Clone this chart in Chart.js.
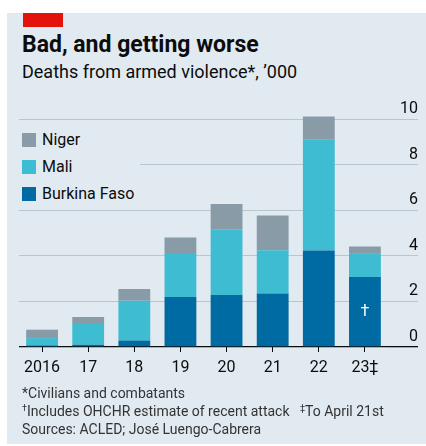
<!DOCTYPE html>
<html>
<head>
<meta charset="utf-8">
<script src="https://cdn.jsdelivr.net/npm/chart.js@4"></script>
<style>
  html, body { margin: 0; padding: 0; background: #fff; }
  body { width: 426px; height: 446px; position: relative; overflow: hidden; font-family: Roboto, sans-serif; color: #0c0c0c; }
  #panel { position: absolute; left: 7px; top: 13px; width: 419px; height: 431px; background: #e1eaf1; }
  #redTag { position: absolute; left: 23px; top: 13px; width: 40px; height: 14px; background: #e3120b; }
  #title { position: absolute; left: 22px; top: 33px; font-size: 23px; font-weight: 700; line-height: 24px; white-space: nowrap; }
  #subtitle { position: absolute; left: 22px; top: 61px; font-size: 18px; line-height: 22px; white-space: nowrap; }
  #chartBox { position: absolute; left: 0; top: 0; width: 426px; height: 446px; }
  #legend { position: absolute; left: 18px; top: 126px; width: 122px; height: 80px; background: #e1eaf1; }
  .item { position: absolute; left: 4px; height: 16px; font-size: 16px; line-height: 16px; white-space: nowrap; }
  .item span { display: inline-block; width: 14px; height: 14px; vertical-align: top; margin-right: 6px; margin-top: 1px; }
  #notes { position: absolute; left: 22px; top: 384px; font-size: 14px; line-height: 18px; color: #333; white-space: nowrap; }
  #notes sup { font-size: 9px; vertical-align: 5px; line-height: 0; }
</style>
</head>
<body>
<div id="panel"></div>
<div id="redTag"></div>
<div id="title">Bad, and getting worse</div>
<div id="subtitle">Deaths from armed violence*, ’000</div>
<div id="chartBox"><canvas id="grafico" width="426" height="446"></canvas></div>
<div id="legend">
  <div class="item" style="top:6px"><span style="background:#8a9ba8"></span>Niger</div>
  <div class="item" style="top:33px"><span style="background:#3ebcd2"></span>Mali</div>
  <div class="item" style="top:60px"><span style="background:#006ba2"></span>Burkina Faso</div>
</div>
<div id="notes">
  *Civilians and combatants<br>
  <sup>†</sup>Includes OHCHR estimate of recent attack &nbsp;&nbsp;<sup>‡</sup>To April 21st<br>
  Sources: ACLED; José Luengo-Cabrera
</div>
<script>
// Dados (milhares de mortes)
const anos = ['2016', '17', '18', '19', '20', '21', '22', '23‡'];
const burkinaFaso = [0.07, 0.10, 0.29, 2.19, 2.28, 2.35, 4.24, 3.07];
const mali = [0.32, 0.95, 1.74, 1.89, 2.86, 1.90, 4.88, 1.05];
const niger = [0.37, 0.27, 0.51, 0.73, 1.13, 1.52, 0.99, 0.29];
const ticksY = [0, 2, 4, 6, 8, 10];

const corGrade = '#b7c6cf';
const corEixo = '#0c0c0c';

// Escreve a adaga branca no meio da barra de 2023 (Burkina Faso)
const pluginAdaga = {
  id: 'adaga',
  afterDatasetsDraw(chart) {
    const barra = chart.getDatasetMeta(0).data[7];
    if (!barra) return;
    const ctx = chart.ctx;
    ctx.save();
    ctx.fillStyle = '#ffffff';
    ctx.font = '16px Roboto';
    ctx.textAlign = 'center';
    ctx.textBaseline = 'middle';
    ctx.fillText('†', barra.x, (barra.y + barra.base) / 2);
    ctx.restore();
  }
};

const ctx = document.getElementById('grafico').getContext('2d');
new Chart(ctx, {
  type: 'bar',
  data: {
    labels: anos,
    datasets: [
      { label: 'Burkina Faso', data: burkinaFaso, backgroundColor: '#006ba2' },
      { label: 'Mali', data: mali, backgroundColor: '#3ebcd2' },
      { label: 'Niger', data: niger, backgroundColor: '#8a9ba8' }
    ]
  },
  options: {
    responsive: false,
    animation: false,
    devicePixelRatio: 1,
    layout: { padding: { left: 19, right: 8, top: 110, bottom: 69 } },
    datasets: { bar: { barPercentage: 0.69, categoryPercentage: 1, borderWidth: 0, clip: false } },
    plugins: { legend: { display: false }, tooltip: { enabled: false } },
    scales: {
      x: {
        stacked: true,
        border: { display: false },
        grid: { drawOnChartArea: false, drawTicks: true, tickLength: 5, color: corEixo, offset: false },
        ticks: { font: { family: 'Roboto', size: 16 }, color: corEixo, padding: 6, maxRotation: 0, autoSkip: false },
        afterFit(scale) { scale.height = 30; }
      },
      y: {
        stacked: true,
        position: 'right',
        min: 0,
        max: 10.4,
        border: { display: false },
        afterBuildTicks(scale) { scale.ticks = ticksY.map(v => ({ value: v })); },
        afterFit(scale) { scale.width = 30; },
        grid: {
          drawTicks: true,
          tickLength: 30,
          color: c => (c.tick && c.tick.value === 0 ? corEixo : corGrade),
          lineWidth: c => (c.tick && c.tick.value === 0 ? 1.3 : 1)
        },
        ticks: {
          mirror: true,
          padding: 30,
          labelOffset: -10,
          font: { family: 'Roboto', size: 16 },
          color: corEixo
        }
      }
    }
  },
  plugins: [pluginAdaga]
});
</script>
</body>
</html>
